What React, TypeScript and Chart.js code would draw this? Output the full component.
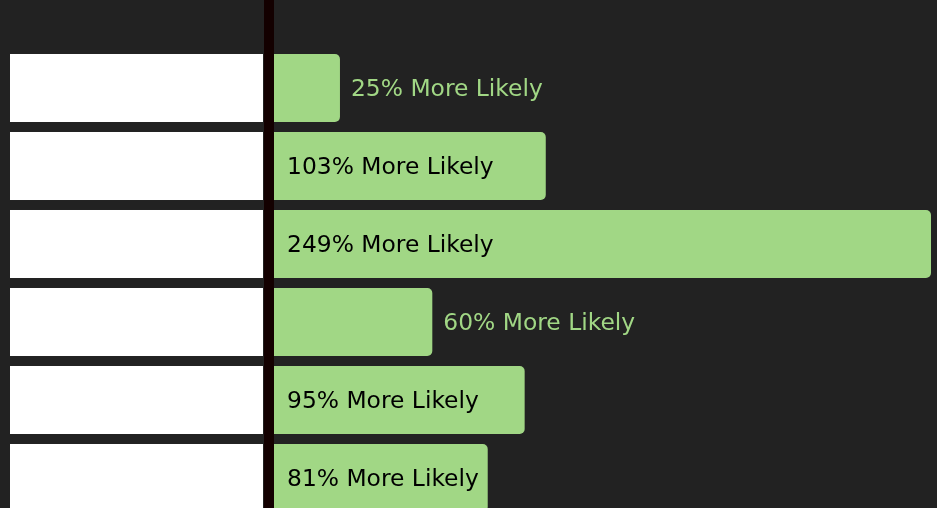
import React, { useEffect, useRef } from "react";
import { Chart, registerables } from "chart.js";

Chart.register(...registerables);

const categories = ["Group 1", "Group 2", "Group 3", "Group 4", "Group 5", "Group 6"];
const values = [25, 103, 249, 60, 95, 81];
const labelSuffix = "% More Likely";
const xMax = 249;

const BG = "#222222";
const GREEN = "#a1d785";
const FONT = '500 23.4px "DejaVu Sans", sans-serif';

const decorPlugin = {
  id: "decor",
  beforeDraw(chart: any) {
    const { ctx, width, height } = chart;
    ctx.save();
    ctx.fillStyle = BG;
    ctx.fillRect(0, 0, width, height);
    ctx.restore();
  },
  beforeDatasetsDraw(chart: any) {
    const { ctx, chartArea, height } = chart;
    const meta = chart.getDatasetMeta(0);
    ctx.save();
    ctx.fillStyle = "#ffffff";
    meta.data.forEach((bar: any) => {
      const h = bar.height;
      ctx.fillRect(chartArea.left - 264, bar.y - h / 2, 253, h);
    });
    ctx.fillStyle = "#130000";
    ctx.fillRect(chartArea.left - 10, 0, 10, height);
    ctx.restore();
  },
  afterDatasetsDraw(chart: any) {
    const { ctx } = chart;
    const meta = chart.getDatasetMeta(0);
    ctx.save();
    ctx.font = FONT;
    ctx.textBaseline = "middle";
    ctx.textAlign = "left";
    meta.data.forEach((bar: any, i: number) => {
      const text = `${values[i]}${labelSuffix}`;
      const w = ctx.measureText(text).width;
      const barW = bar.x - bar.base;
      if (w + 20 <= barW) {
        ctx.fillStyle = "#000000";
        ctx.fillText(text, bar.base + 13, bar.y + 2);
      } else {
        ctx.fillStyle = GREEN;
        ctx.fillText(text, bar.x + 11, bar.y + 2);
      }
    });
    ctx.restore();
  },
};

export default function App() {
  const ref = useRef<HTMLCanvasElement | null>(null);
  useEffect(() => {
    if (!ref.current) return;
    const chart = new Chart(ref.current, {
      type: "bar",
      data: {
        labels: categories,
        datasets: [
          {
            data: values,
            backgroundColor: GREEN,
            borderRadius: 5,
            borderSkipped: "start",
            categoryPercentage: 1,
            barPercentage: 0.872,
          },
        ],
      },
      options: {
        indexAxis: "y",
        animation: false,
        responsive: true,
        maintainAspectRatio: false,
        layout: { padding: { left: 274, right: 6, top: 49, bottom: 13 } },
        plugins: { legend: { display: false }, tooltip: { enabled: false } },
        scales: {
          x: { display: false, min: 0, max: xMax },
          y: { display: false },
        },
      },
      plugins: [decorPlugin],
    });
    return () => chart.destroy();
  }, []);
  return (
    <div
      style={{
        position: "fixed",
        left: 0,
        top: 0,
        width: 937,
        height: 508,
        overflow: "hidden",
        background: BG,
      }}
    >
      <div style={{ position: "relative", width: 937, height: 530 }}>
        <canvas ref={ref} />
      </div>
    </div>
  );
}
